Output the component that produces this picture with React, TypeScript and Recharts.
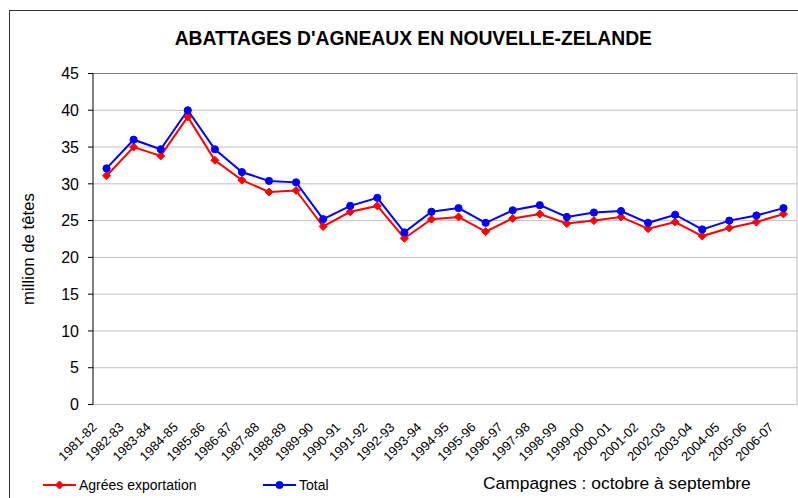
import React from 'react';
import { LineChart, Line, XAxis, YAxis, CartesianGrid, ReferenceLine, Legend } from 'recharts';

const seasons = [
  '1981-82', '1982-83', '1983-84', '1984-85', '1985-86', '1986-87', '1987-88',
  '1988-89', '1989-90', '1990-91', '1991-92', '1992-93', '1993-94', '1994-95',
  '1995-96', '1996-97', '1997-98', '1998-99', '1999-00', '2000-01', '2001-02',
  '2002-03', '2003-04', '2004-05', '2005-06', '2006-07',
];

// million de têtes
const agreesExportation = [
  31.1, 35.0, 33.8, 39.1, 33.2, 30.5, 28.9, 29.1, 24.2, 26.2, 27.0, 22.6, 25.2,
  25.5, 23.5, 25.3, 25.9, 24.6, 25.0, 25.5, 23.9, 24.8, 22.9, 24.0, 24.8, 25.9,
];
const totalAbattages = [
  32.1, 36.0, 34.7, 40.0, 34.7, 31.6, 30.4, 30.2, 25.2, 27.0, 28.1, 23.4, 26.2,
  26.7, 24.7, 26.4, 27.1, 25.5, 26.1, 26.3, 24.7, 25.8, 23.8, 25.0, 25.7, 26.7,
];

const yTicks = [0, 5, 10, 15, 20, 25, 30, 35, 40, 45];

const FONT = 'Arial, "Liberation Sans", Helvetica, sans-serif';

const data = seasons.map((season, i) => ({
  season,
  pos: i + 0.5,
  exportation: agreesExportation[i],
  total: totalAbattages[i],
}));

// tick marks sit between categories, labels sit in the middle
const boundaryTicks = seasons.map((_, i) => i);
const centerTicks = seasons.map((_, i) => i + 0.5);

const series = [
  { key: 'exportation', name: 'Agrées exportation', color: '#ff0000', shape: 'diamond' },
  { key: 'total', name: 'Total', color: '#0000ff', shape: 'circle' },
];

const Marker = ({ cx, cy, color, shape }: any) =>
  shape === 'diamond' ? (
    <path
      d={`M${cx},${cy - 4}L${cx + 4},${cy}L${cx},${cy + 4}L${cx - 4},${cy}Z`}
      fill={color}
      stroke={color}
      strokeWidth={1}
    />
  ) : (
    <circle cx={cx} cy={cy} r={3.6} fill={color} stroke={color} strokeWidth={1} />
  );

const SeasonTick = ({ x, y, payload }: any) => {
  const label = seasons[Math.floor(payload.value)];
  const ax = x - 9;
  const ay = y + 23.5;
  return (
    <text
      x={ax}
      y={ay}
      transform={`rotate(-45, ${ax}, ${ay})`}
      textAnchor="end"
      fontSize={13}
      fontFamily={FONT}
      fill="#000"
    >
      {label}
    </text>
  );
};

const LegendRow = () => (
  <div style={{ position: 'relative', width: 798, height: 28, fontFamily: FONT, fontSize: 14 }}>
    {series.map((s, i) => (
      <div
        key={s.key}
        style={{
          position: 'absolute',
          left: [43, 263][i],
          top: 0,
          height: 28,
          display: 'flex',
          alignItems: 'center',
          color: '#000',
        }}
      >
        <svg width={33} height={10}>
          <line x1={0} y1={5} x2={33} y2={5} stroke={s.color} strokeWidth={2} />
          <Marker cx={16.5} cy={5} color={s.color} shape={s.shape} />
        </svg>
        <span style={{ marginLeft: 3 }}>{s.name}</span>
      </div>
    ))}
  </div>
);

export default function App() {
  return (
    <div
      style={{
        position: 'absolute',
        left: 0,
        top: 0,
        width: 798,
        height: 498,
        overflow: 'hidden',
        background: '#fff',
        fontFamily: FONT,
      }}
    >
      <div
        style={{
          position: 'absolute',
          left: 9,
          top: 10,
          width: 820,
          height: 520,
          border: '1px solid #333',
        }}
      />
      <svg
        width={798}
        height={60}
        style={{ position: 'absolute', left: 0, top: 0, pointerEvents: 'none' }}
      >
        <text x={413.3} y={45} textAnchor="middle" fontSize={19.3} fontWeight="bold" fontFamily={FONT} fill="#000">
          ABATTAGES D'AGNEAUX EN NOUVELLE-ZELANDE
        </text>
      </svg>
      <div style={{ position: 'absolute', left: 0, top: 0 }}>
        <LineChart
          width={798}
          height={498}
          data={data}
          margin={{ top: 73.5, right: 1, bottom: 0, left: 0 }}
        >
          <CartesianGrid horizontal vertical={false} stroke="#c0c0c0" strokeWidth={1} />
          <XAxis
            dataKey="pos"
            type="number"
            domain={[0, seasons.length]}
            ticks={boundaryTicks}
            interval={0}
            height={0}
            tick={() => <g />}
            tickSize={5}
            axisLine={{ stroke: '#000', strokeWidth: 1 }}
            tickLine={{ stroke: '#000', strokeWidth: 1 }}
          />
          <XAxis
            xAxisId="labels"
            dataKey="pos"
            type="number"
            domain={[0, seasons.length]}
            ticks={centerTicks}
            interval={0}
            height={93.5}
            axisLine={false}
            tickLine={false}
            tickSize={0}
            tickMargin={0}
            tick={<SeasonTick />}
            label={(props: any) => {
              const vb = props.viewBox;
              return (
                <text x={vb.x + 390} y={vb.y + 84.5} fontSize={17.4} fontFamily={FONT} fill="#000">
                  Campagnes : octobre à septembre
                </text>
              );
            }}
          />
          <YAxis
            domain={[0, 45]}
            ticks={yTicks}
            interval={0}
            width={93}
            tickSize={5}
            tickMargin={9}
            axisLine={{ stroke: '#000', strokeWidth: 1 }}
            tickLine={{ stroke: '#000', strokeWidth: 1 }}
            tick={{ fill: '#000', fontSize: 16, fontFamily: FONT }}
            label={(props: any) => {
              const vb = props.viewBox;
              const lx = vb.x + 34;
              const ly = vb.y + vb.height / 2 + 10;
              return (
                <text
                  x={lx}
                  y={ly}
                  transform={`rotate(-90, ${lx}, ${ly})`}
                  textAnchor="middle"
                  fontSize={16.8}
                  fontFamily={FONT}
                  fill="#000"
                >
                  million de têtes
                </text>
              );
            }}
          />
          <ReferenceLine y={45} stroke="#808080" strokeWidth={1} />
          <ReferenceLine x={seasons.length} stroke="#c0c0c0" strokeWidth={1} />
          {series.map((s) => (
            <Line
              key={s.key}
              dataKey={s.key}
              name={s.name}
              stroke={s.color}
              strokeWidth={2}
              isAnimationActive={false}
              dot={(p: any) => (
                <Marker key={`${s.key}-${p.index}`} cx={p.cx} cy={p.cy} color={s.color} shape={s.shape} />
              )}
              activeDot={false}
            />
          ))}
          <Legend
            layout="horizontal"
            verticalAlign="middle"
            align="center"
            content={() => <LegendRow />}
            wrapperStyle={{ left: 0, top: 471, width: 798, height: 28 }}
          />
        </LineChart>
      </div>
    </div>
  );
}
